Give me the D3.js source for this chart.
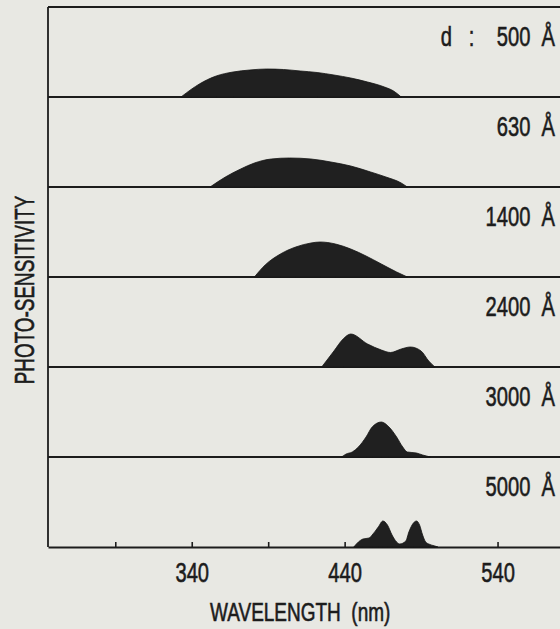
<!DOCTYPE html>
<html><head><meta charset="utf-8">
<script src="https://cdn.jsdelivr.net/npm/d3@7"></script>
<style>html,body{margin:0;padding:0;background:#e8e8e3;} svg{display:block;}</style>
</head><body><div id="chart"></div>
<script>
// Film thickness for each panel (Å)
const thicknesses = [500, 630, 1400, 2400, 3000, 5000];
// Photo-sensitivity spectra (wavelength nm, sensitivity arb. units)
const wl500  = [333,340,345,356,367,378,389,400,411,422,433,444,455,466,472,477];
const s500   = [0,8,13,21,25,27,28,27.5,26,24.5,22,19,15,10,6,0];
const wl630  = [352,362,372,381,392,404,418,431,444,457,467,477,481];
const s630   = [0,10,18,24,28,29,28,25,21,15,10,4,0];
const wl1400 = [381,388,398,408,418,424,434,444,454,464,474,481];
const s1400  = [0,12,23,30,34,35,33,28,21,13,5,0];
const wl2400 = [425,433,439,444,455,464,470,477,483,490,495,499];
const s2400  = [0,16,28,33,23,17,14.5,18,20,16,6,0];
const wl3000 = [438,441,445,449,454,458,464,469,474,478,481,487,491,496];
const s3000  = [0,3,5,10,20,30,35,30,20,10,5,4,2,0];
const wl5000 = [446,449,452,456,458,462,465,468,471,474,476,480,482,485,487,489,491,493,495,499,501];
const s5000  = [0,5,8,9,12,20,26,22,12,5,3,6,15,24,26,22,12,5,3,1,0];
const xTickValues = [290, 340, 390, 440, 490, 540];
const xTickLabels = ["", "340", "", "440", "", "540"];

const seriesWl = [wl500, wl630, wl1400, wl2400, wl3000, wl5000];
const seriesS  = [s500, s630, s1400, s2400, s3000, s5000];

const W = 560, H = 629;
const ink = "#1c1c1c";
const FONT = "Liberation Sans, Arial, sans-serif";
const svg = d3.select("#chart").append("svg").attr("width", W).attr("height", H);
svg.append("rect").attr("width", W).attr("height", H).attr("fill", "#e8e8e3");

const leftX = 48, topY = 7, bottomY = 547;
const x = d3.scaleLinear().domain([246, 590]).range([leftX, 574]);
const band = d3.scaleBand().domain(thicknesses).range([topY, bottomY]);
const amp = d3.scaleLinear().domain([0, 40]).range([0, 40]);

// frame lines
svg.append("line").attr("x1", leftX).attr("x2", 574).attr("y1", topY).attr("y2", topY)
  .attr("stroke", ink).attr("stroke-width", 1.8);
svg.append("line").attr("x1", leftX).attr("x2", leftX).attr("y1", topY).attr("y2", bottomY)
  .attr("stroke", ink).attr("stroke-width", 1.8);
thicknesses.slice(0, -1).forEach(t => {
  const yb = band(t) + band.bandwidth();
  svg.append("line").attr("x1", leftX).attr("x2", 574).attr("y1", yb).attr("y2", yb)
    .attr("stroke", ink).attr("stroke-width", 1.8);
});

// bottom axis
const axis = d3.axisBottom(x).tickValues(xTickValues)
  .tickFormat((d, i) => xTickLabels[i]).tickSizeInner(-5).tickSizeOuter(0).tickPadding(15);
const gAx = svg.append("g").attr("transform", `translate(0,${bottomY})`).call(axis);
gAx.select(".domain").attr("stroke", ink).attr("stroke-width", 1.8);
gAx.selectAll(".tick line").attr("stroke", ink).attr("stroke-width", 1.6);
gAx.selectAll(".tick text").attr("fill", ink).attr("font-family", FONT)
  .attr("font-size", 28).attr("stroke", ink).attr("stroke-width", 0.6)
  .attr("transform", "scale(0.72,1)");

// areas (on top of ticks)
seriesWl.forEach((wl, i) => {
  const base = band(thicknesses[i]) + band.bandwidth();
  const pts = wl.map((w, j) => ({w, s: seriesS[i][j]}));
  const area = d3.area().x(d => x(d.w)).y0(base).y1(d => base - amp(d.s)).curve(d3.curveMonotoneX);
  svg.append("path").attr("d", area(pts)).attr("fill", "#202020").attr("stroke", "#141414").attr("stroke-width", 0.8);
});

function txt(xp, y, s, fs, sx, anchor, rot) {
  return svg.append("text")
    .attr("transform", `translate(${xp},${y})${rot ? " rotate(" + rot + ")" : ""} scale(${sx},1)`)
    .attr("text-anchor", anchor).text(s)
    .attr("font-family", FONT).attr("font-size", fs)
    .attr("fill", ink).attr("stroke", ink).attr("stroke-width", 0.6)
    .style("white-space", "pre");
}

// panel labels
thicknesses.forEach((t, i) => {
  const yb = band(t) + 39;
  const s = (i === 0 ? "d   :    " : "") + t + "  Å";
  txt(555, yb, s, 28, 0.72, "end");
});

// axis titles
txt(210, 621, "WAVELENGTH  (nm)", 25, 0.76, "start");
txt(34, 290, "PHOTO-SENSITIVITY", 27, 0.70, "middle", -90);
</script></body></html>
